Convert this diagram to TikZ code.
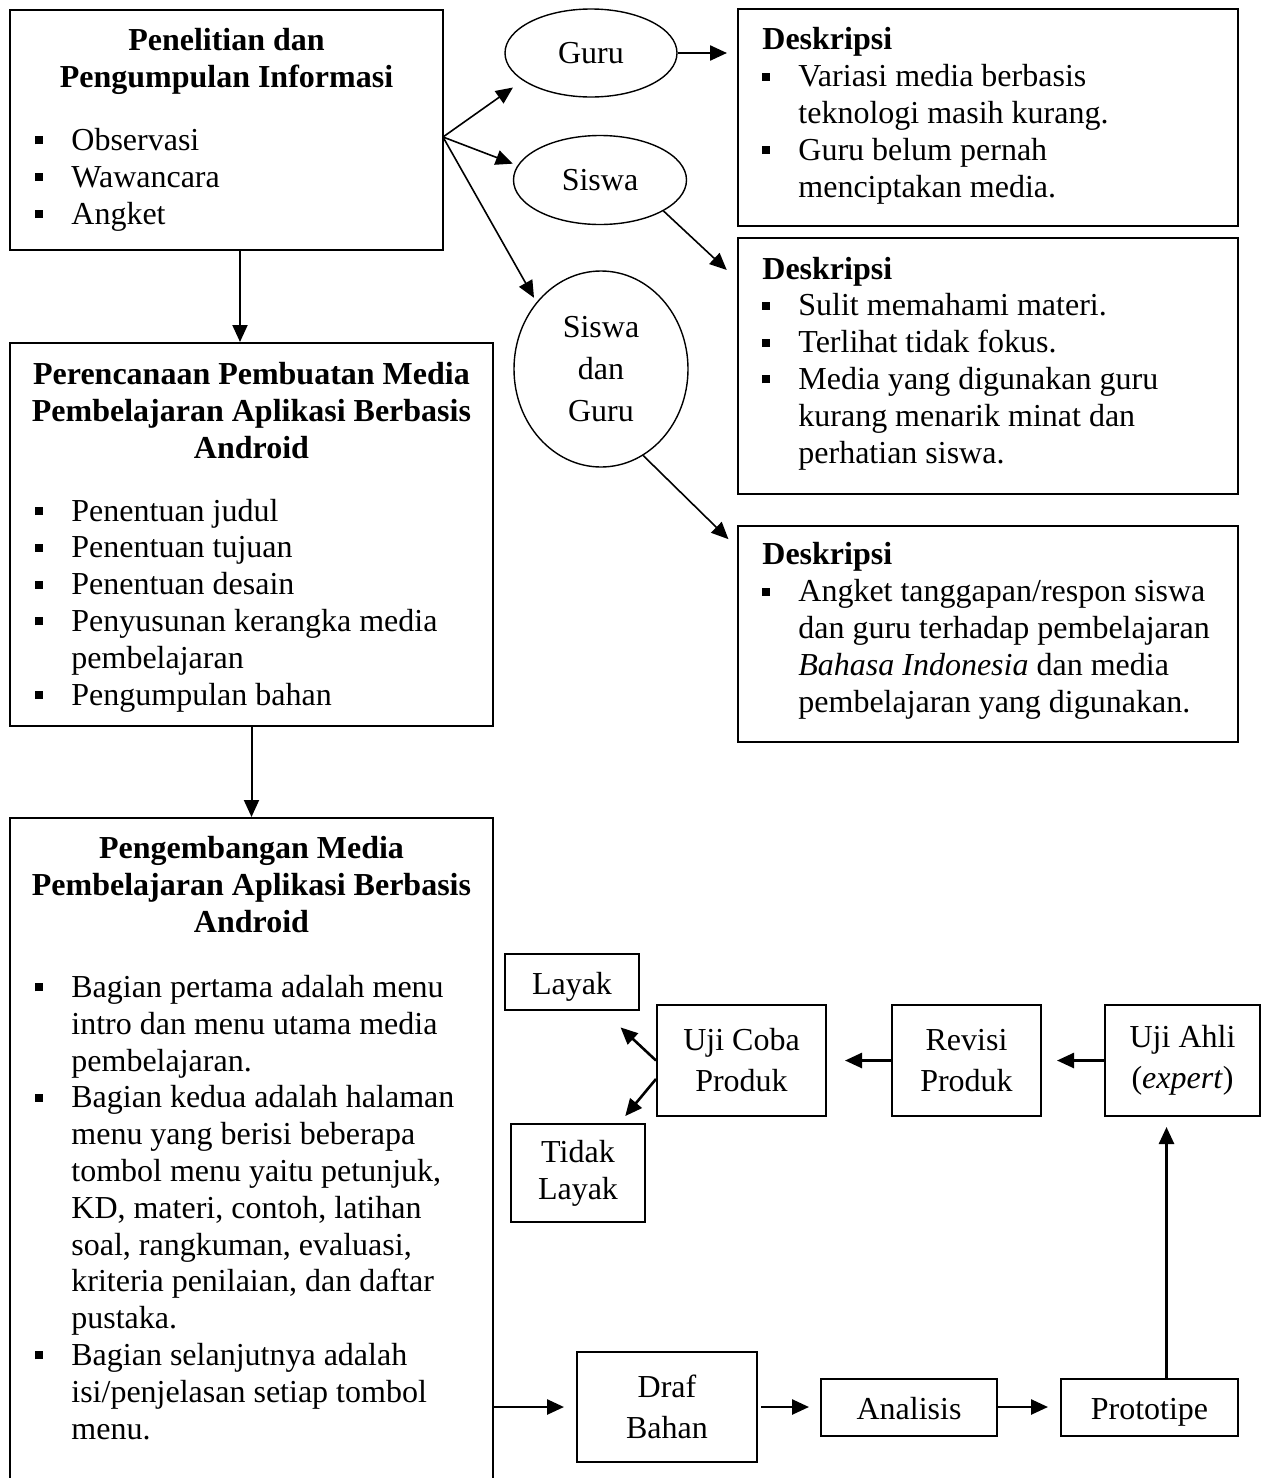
\documentclass[tikz,border=0pt]{standalone}
\usepackage{fontspec}
\setmainfont{Liberation Serif}
\usepackage{tikz}
\usetikzlibrary{shapes}
\usetikzlibrary{arrows.meta}
\usetikzlibrary{fit}
\tikzstyle{panel}=[draw=black,line width=1pt,inner sep=0pt]
\tikzstyle{stepbox}=[panel,align=center,font=\fontsize{16}{20.5}\selectfont]
\tikzstyle{oneline}=[text height=12pt,text depth=0pt]
\tikzstyle{oval}=[ellipse,draw=black,line width=0.7pt,inner sep=0pt,align=center]
\tikzstyle{itemtext}=[inner sep=0pt,align=left,anchor=base west]
\tikzstyle{headtext}=[inner sep=0pt,align=center,anchor=base,font=\fontsize{16}{18.4}\selectfont\bfseries]
\tikzstyle{flowarrow}=[-{Triangle[length=8.5pt,width=7.5pt]},line width=1pt]
\tikzstyle{thinarrow}=[flowarrow,line width=0.8pt]
\tikzstyle{steparrow}=[flowarrow,line width=1.3pt]
\newcommand\blt{\makebox[18pt][l]{\rule[3pt]{4pt}{4pt}}}
\newcommand\ind{\hspace*{18pt}}
\tikzset{every picture/.style={x=0.5pt,y=-0.5pt},
  every node/.style={font=\fontsize{16}{18.4}\selectfont}
}

\begin{document}
\begin{tikzpicture}
  \useasboundingbox (0,0) rectangle (1263,1478);
  \clip (0,0) rectangle (1263,1478);
  % left column (text nodes sit on the baseline of their last line)
  \node[panel,fit={(10,10) (443,250)}] (riset) {};
  \node[headtext] at (226.5,87) (risetHead) {Penelitian dan\\Pengumpulan Informasi};
  \node[itemtext] at (35,224) (risetList) {\blt Observasi\\\blt Wawancara\\\blt Angket};
  \node[panel,fit={(10,343) (493,726)}] (rencana) {};
  \node[headtext] at (251.5,458) (rencanaHead) {Perencanaan Pembuatan Media\\Pembelajaran Aplikasi Berbasis\\Android};
  \node[itemtext] at (35,705) (rencanaList) {\blt Penentuan judul\\\blt Penentuan tujuan\\\blt Penentuan desain\\\blt Penyusunan kerangka media\\\ind pembelajaran\\\blt Pengumpulan bahan};
  \node[panel,fit={(10,818) (493,1500)}] (kembang) {};
  \node[headtext] at (251.5,932) (kembangHead) {Pengembangan Media\\Pembelajaran Aplikasi Berbasis\\Android};
  \node[itemtext] at (35,1439) (kembangList) {\blt Bagian pertama adalah menu\\\ind intro dan menu utama media\\\ind pembelajaran.\\\blt Bagian kedua adalah halaman\\\ind menu yang berisi beberapa\\\ind tombol menu yaitu petunjuk,\\\ind KD, materi, contoh, latihan\\\ind soal, rangkuman, evaluasi,\\\ind kriteria penilaian, dan daftar\\\ind pustaka.\\\blt Bagian selanjutnya adalah\\\ind isi/penjelasan setiap tombol\\\ind menu.};
  \draw[flowarrow] ([xshift=6.75pt]riset.south) -- ([xshift=6.75pt]riset.south |- rencana.north);
  \draw[flowarrow] (rencana.south) -- (kembang.north);
  % respondents
  \node[oval,minimum width=86pt,minimum height=44pt] at (591,53) (guru) {Guru};
  \node[oval,minimum width=86.5pt,minimum height=44.5pt] at (600,180) (siswa) {Siswa};
  \node[oval,minimum width=87pt,minimum height=98pt,font=\fontsize{16}{21}\selectfont] at (601,369) (siswaguru) {Siswa\\dan\\Guru};
  \coordinate (fork) at (443,137);
  \draw[thinarrow,shorten >=6pt] (fork) -- (guru.202.6);
  \draw[thinarrow,shorten >=2.5pt] (fork) -- (siswa.170);
  \draw[thinarrow,shorten >=2.5pt] (fork) -- (siswaguru.134);
  % descriptions
  \node[panel,fit={(738,9) (1238,226)}] (descGuru) {};
  \node[itemtext] at (762,197) (descGuruText) {\textbf{Deskripsi}\\\blt Variasi media berbasis\\\ind teknologi masih kurang.\\\blt Guru belum pernah\\\ind menciptakan media.};
  \node[panel,fit={(738,238) (1238,494)}] (descSiswa) {};
  \node[itemtext] at (762,463) (descSiswaText) {\textbf{Deskripsi}\\\blt Sulit memahami materi.\\\blt Terlihat tidak fokus.\\\blt Media yang digunakan guru\\\ind kurang menarik minat dan\\\ind perhatian siswa.};
  \node[panel,fit={(738,526) (1238,742)}] (descBoth) {};
  \node[itemtext] at (762,712) (descBothText) {\textbf{Deskripsi}\\\blt Angket tanggapan/respon siswa\\\ind dan guru terhadap pembelajaran\\\ind \textit{Bahasa Indonesia} dan media\\\ind pembelajaran yang digunakan.};
  \draw[flowarrow,line width=1.2pt,shorten >=5pt] (guru.east) -- (guru.east -| descGuru.west);
  \draw[thinarrow,shorten >=7pt] (siswa.-26) -- (descSiswa.161);
  \draw[thinarrow,shorten >=6pt] (siswaguru.-64.5) -- (descBoth.161.5);
  % development steps
  \node[stepbox,minimum width=90pt,minimum height=55pt] at (667,1407) (draf) {Draf\\Bahan};
  \node[stepbox,oneline,minimum width=88pt,minimum height=28.5pt] at (909,1407) (analisis) {Analisis};
  \node[stepbox,oneline,minimum width=88.5pt,minimum height=28.5pt] at (1149.5,1407) (prototipe) {Prototipe};
  \node[stepbox,minimum width=77.5pt,minimum height=55.5pt] at (1182.5,1060.5) (ujiahli) {Uji Ahli\\(\textit{expert})};
  \node[stepbox,minimum width=74.5pt,minimum height=55.5pt] at (966.5,1060.5) (revisi) {Revisi\\Produk};
  \node[stepbox,minimum width=84.5pt,minimum height=55.5pt] at (741.5,1060.5) (ujicoba) {Uji Coba\\Produk};
  \node[stepbox,oneline,minimum width=67pt,minimum height=28pt] at (572,982) (layak) {Layak};
  \node[stepbox,minimum width=67pt,minimum height=49pt,font=\fontsize{16}{18.4}\selectfont] at (578,1173) (tidak) {Tidak\\Layak};
  \draw[steparrow,shorten >=6pt] (kembang.east |- draf) -- (draf);
  \draw[steparrow,shorten <=1.5pt,shorten >=5.5pt] (draf.east) -- (analisis.west);
  \draw[steparrow,shorten >=6pt] (analisis.east) -- (prototipe.west);
  \draw[steparrow,shorten >=5pt] ([xshift=8.5pt]prototipe.north) -- ([xshift=8.5pt]prototipe.north |- ujiahli.south);
  \draw[steparrow,shorten >=7.5pt] (ujiahli) -- (revisi);
  \draw[steparrow,shorten >=9pt] (revisi) -- (ujicoba);
  \draw[steparrow,shorten >=12pt] (ujicoba.west) -- (layak);
  \draw[steparrow,shorten >=4.5pt] ([yshift=-9.25pt]ujicoba.west) -- (tidak);
\end{tikzpicture}
\end{document}
